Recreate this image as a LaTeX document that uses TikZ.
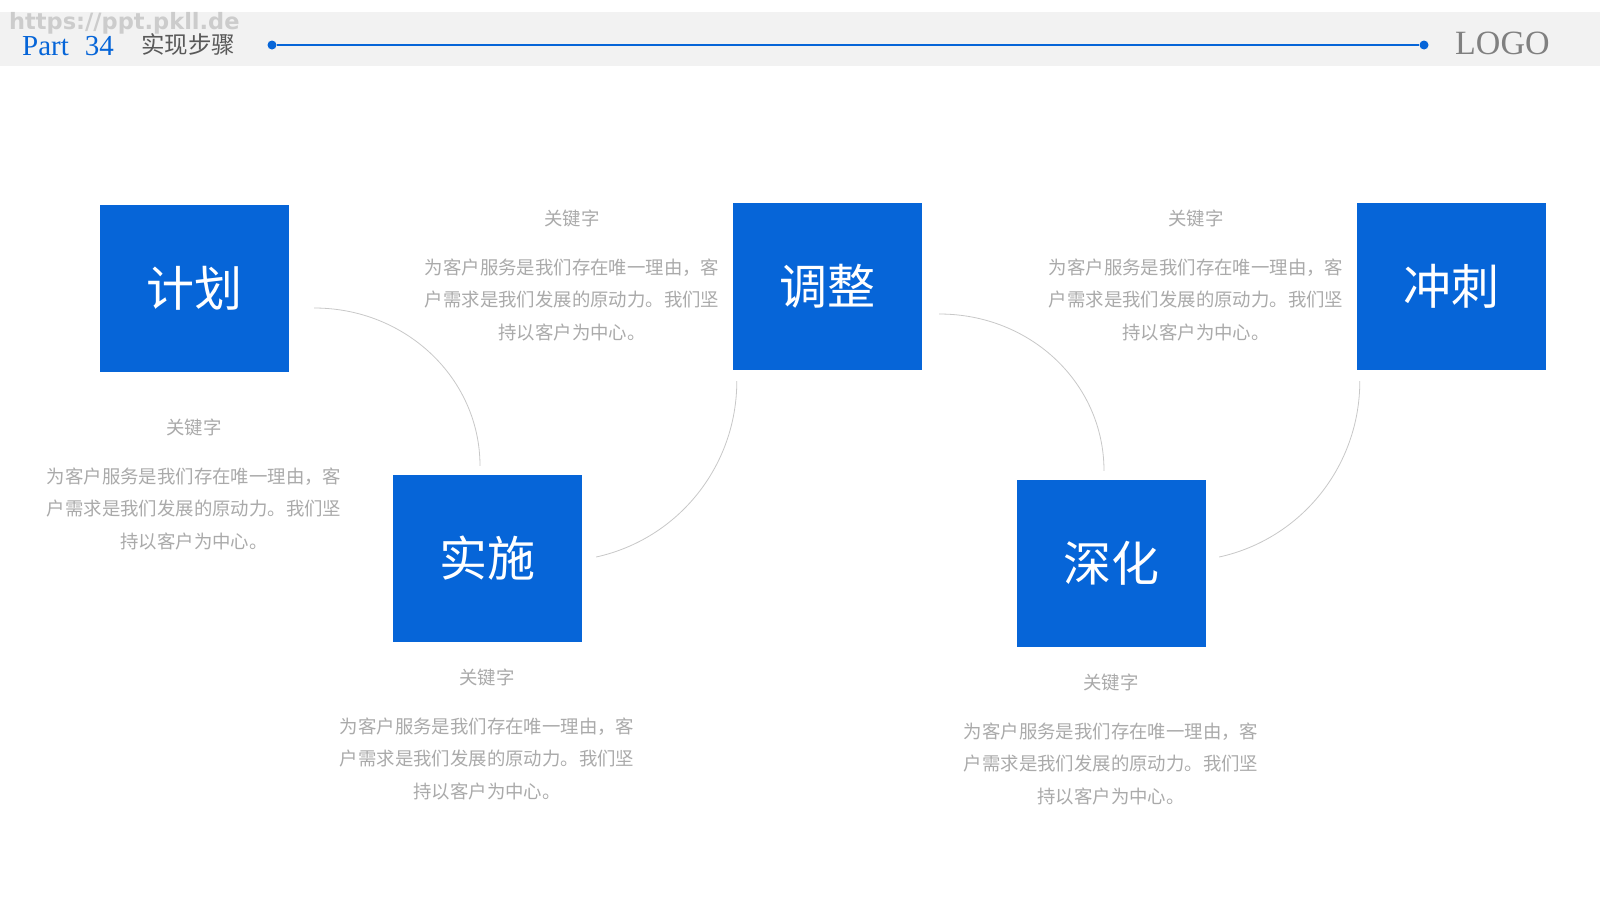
\documentclass[tikz,border=0pt]{standalone}
\usepackage{fontspec}
\newfontfamily\cjk{Noto Sans CJK SC}
\newfontfamily\latinserif{Liberation Serif}
\newfontfamily\wmfont{DejaVu Sans}
\usetikzlibrary{calc}
\definecolor{stepblue}{RGB}{6,101,216}
\definecolor{bandgrey}{RGB}{242,242,242}
\definecolor{txtgrey}{RGB}{170,170,170}
\definecolor{arcgrey}{RGB}{200,200,200}
\newcommand{\keyblurb}{关键字\\[16.5pt]为客户服务是我们存在唯一理由，客\\户需求是我们发展的原动力。我们坚\\持以客户为中心。}
\tikzset{
  stepbox/.style={fill=stepblue, minimum width=189pt, minimum height=167pt, inner sep=0pt, text=white, font=\cjk\fontsize{48}{52}\selectfont},
  blurb/.style={anchor=north, align=center, inner sep=0pt, text=txtgrey, font=\cjk\fontsize{18.4}{32.5}\selectfont},
  headtext/.style={anchor=base west, inner sep=0pt},
  enddot/.style={circle, fill=stepblue, inner sep=0pt, minimum size=9pt},
  arcline/.style={draw=arcgrey, line width=0.8pt},
}
\begin{document}
\begin{tikzpicture}[x=1pt,y=-1pt]
        \fill[white] (0,0) rectangle (1600,900);
        \useasboundingbox (0,0) rectangle (1600,900);
        \fill[bandgrey] (0,12) rectangle (1600,66);
        \node[headtext, text=black!20, font=\wmfont\bfseries\fontsize{22.5}{24}\selectfont] (wm) at (9,29) {https://ppt.pkll.de};
        \node[headtext, text=stepblue, font=\latinserif\fontsize{29}{32}\selectfont] (part) at (22,55) {Part\hspace{16pt}34};
        \node[headtext, text=black!65, font=\cjk\fontsize{23.5}{26}\selectfont] (title) at (141,53) {实现步骤};
        \node[headtext, text=black!50, font=\latinserif\fontsize{34}{36}\selectfont] (logo) at (1455,54) {LOGO};
        \node[enddot] (dotl) at (272,45) {};
        \node[enddot] (dotr) at (1424,45) {};
        \draw[stepblue, line width=1.2pt] (dotl) -- (dotr);
        \node[stepbox] (jihua) at (194.5,288.5) {计划};
        \node[stepbox] (shishi) at (487.5,558.5) {实施};
        \node[stepbox] (tiaozheng) at (827.5,286.5) {调整};
        \node[stepbox] (shenhua) at (1111.5,563.5) {深化};
        \node[stepbox] (chongci) at (1451.5,286.5) {冲刺};
        \node[blurb] (jihuatxt) at (194,418.5) {\keyblurb};
        \node[blurb] (tiaozhengtxt) at (572,209.5) {\keyblurb};
        \node[blurb] (shishitxt) at (487,668.5) {\keyblurb};
        \node[blurb] (shenhuatxt) at (1111,673.5) {\keyblurb};
        \node[blurb] (chongcitxt) at (1196,209.5) {\keyblurb};
        \draw[arcline] ($(jihua.east)+(25,19.5)$) .. controls +(92,0) and +(0,-87) .. ($(shishi.north)+(-7.5,-9)$);
        \draw[arcline] ($(tiaozheng.south west)+(4,11)$) .. controls +(0,84.5) and +(82.5,-18.2) .. ($(shishi.east)+(14,-1.5)$);
        \draw[arcline] ($(tiaozheng.east)+(17,27.5)$) .. controls +(92,0) and +(0,-87) .. ($(shenhua.north)+(-7.5,-9)$);
        \draw[arcline] ($(chongci.south west)+(3,11)$) .. controls +(0,84.5) and +(82.5,-18.2) .. ($(shenhua.east)+(13,-6.5)$);
    \end{tikzpicture}
\end{document}
